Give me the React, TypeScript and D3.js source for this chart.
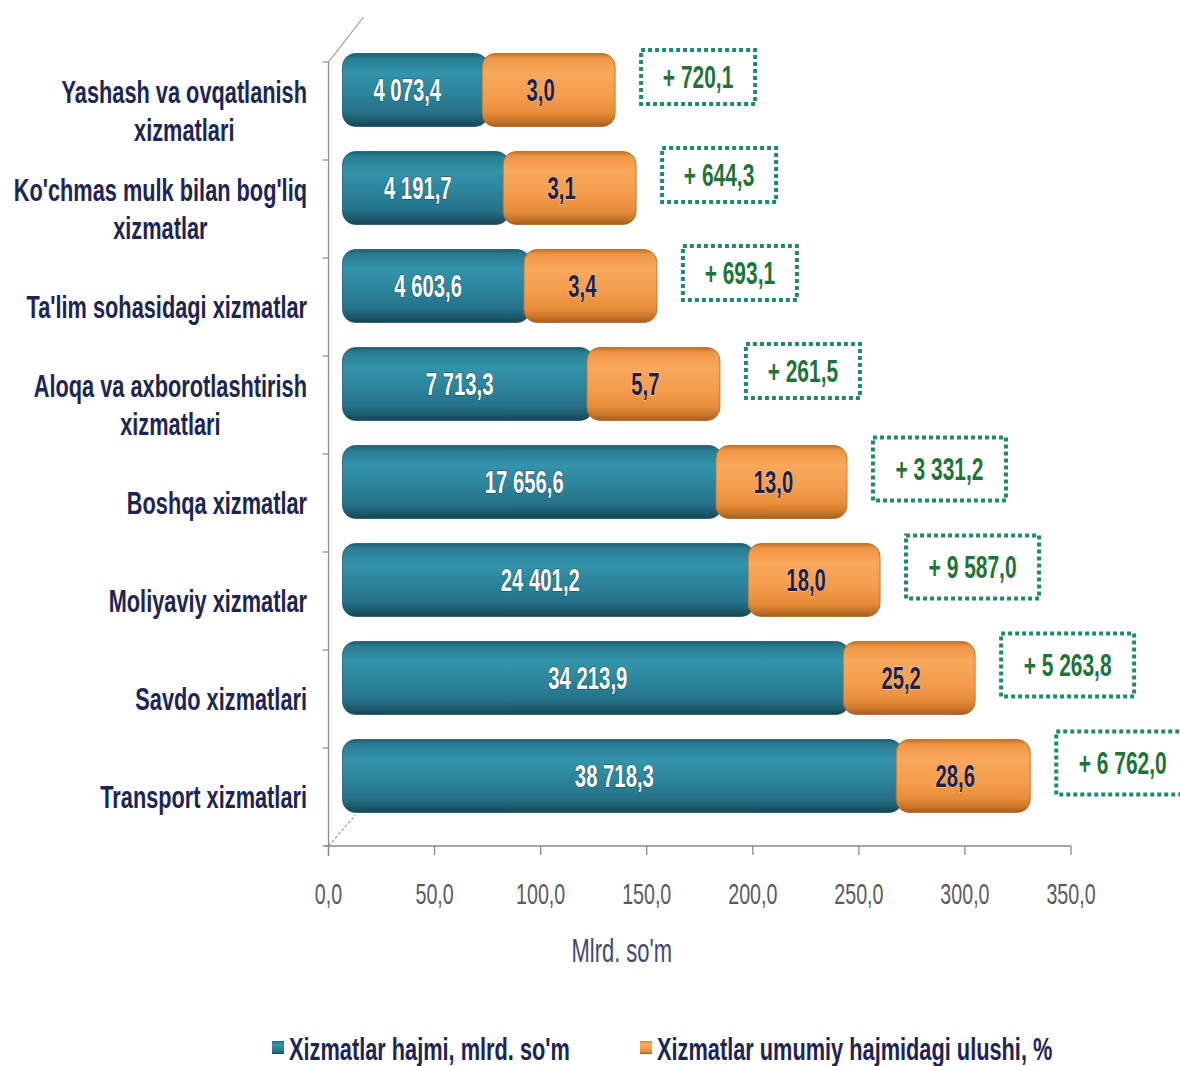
import React, { useEffect, useRef } from 'react';
import * as d3 from 'd3';

// "|" splits a category into two lines
const categories = [
  'Yashash va ovqatlanish|xizmatlari',
  "Ko'chmas mulk bilan bog'liq|xizmatlar",
  "Ta'lim sohasidagi xizmatlar",
  'Aloqa va axborotlashtirish|xizmatlari',
  'Boshqa xizmatlar',
  'Moliyaviy xizmatlar',
  'Savdo xizmatlari',
  'Transport xizmatlari',
];

// bar lengths as drawn against the 0-350 axis
const volumeBars = [65.8, 75.7, 85.5, 115.2, 176.0, 191.2, 236.0, 261.0];
const shareBars = [62.7, 62.7, 62.7, 62.7, 61.8, 62.2, 62.2, 63.2];

const volumeLabels = ['4 073,4', '4 191,7', '4 603,6', '7 713,3', '17 656,6', '24 401,2', '34 213,9', '38 718,3'];
const shareLabels = ['3,0', '3,1', '3,4', '5,7', '13,0', '18,0', '25,2', '28,6'];
const changeLabels = ['+ 720,1', '+ 644,3', '+ 693,1', '+ 261,5', '+ 3 331,2', '+ 9 587,0', '+ 5 263,8', '+ 6 762,0'];

const xTicks = [0, 50, 100, 150, 200, 250, 300, 350];
const axisTitle = "Mlrd. so'm";
const legendLabels = ["Xizmatlar hajmi, mlrd. so'm", 'Xizmatlar umumiy hajmidagi ulushi, %'];

const W = 1180;
const H = 1066;
const SQ = 0.7; // narrow look of the text
const FONT = '"Liberation Sans", Arial, sans-serif';
const NAVY = '#1c2556';

function addText(g, x, y, str, size, weight, color, anchor = 'middle', sq = SQ) {
  return g.append('text')
    .attr('transform', `translate(${x},${y}) scale(${sq},1)`)
    .attr('text-anchor', anchor)
    .attr('dominant-baseline', 'central')
    .style('font-family', FONT)
    .style('font-size', size + 'px')
    .style('font-weight', weight)
    .attr('fill', color)
    .text(str);
}

function App() {
  const svgRef = useRef(null);

  useEffect(() => {
    const svg = d3.select(svgRef.current);
    svg.selectAll('*').remove();

    const x = d3.scaleLinear().domain([0, 350]).range([328.5, 1071]);
    const y = d3.scaleBand().domain(categories).range([62, 846])
      .paddingInner(0.255).paddingOuter(0.1275);
    const bw = y.bandwidth();
    const dx = 14, dy = -21; // bars sit in the middle of the 3d depth
    const baseY = 846;

    const defs = svg.append('defs');
    const grad = (id, stops) => {
      const lg = defs.append('linearGradient').attr('id', id)
        .attr('x1', 0).attr('y1', 0).attr('x2', 0).attr('y2', 1);
      stops.forEach(([o, c]) => lg.append('stop').attr('offset', o).attr('stop-color', c));
    };
    grad('tealG', [[0, '#1d5d71'], [0.07, '#2a7d93'], [0.28, '#3294ab'], [0.55, '#2b849b'], [0.8, '#26728a'], [0.92, '#1d5a6c'], [1, '#164656']]);
    grad('orangeG', [[0, '#c07228'], [0.07, '#f09646'], [0.28, '#f8a85c'], [0.6, '#f49c4c'], [0.82, '#e68b38'], [0.93, '#c57328'], [1, '#a45d1e']]);

    // wall / axes
    const axisG = svg.append('g');
    axisG.append('line').attr('x1', x(0)).attr('x2', x(0)).attr('y1', 62).attr('y2', baseY + 10)
      .attr('stroke', '#8a8a8a').attr('stroke-width', 1.3);
    axisG.append('line').attr('x1', x(0)).attr('y1', 62).attr('x2', x(0) + 35).attr('y2', 17)
      .attr('stroke', '#9a9a9a').attr('stroke-width', 1.2);
    axisG.append('line').attr('x1', x(0)).attr('y1', baseY).attr('x2', x(0) + 27).attr('y2', baseY - 31)
      .attr('stroke', '#9a9a9a').attr('stroke-width', 1.2).attr('stroke-dasharray', '3 2');
    const bounds = categories.map((c) => y(c) - y.step() * y.paddingInner() / 2).concat([baseY]);
    bounds.forEach((b) => {
      axisG.append('line').attr('x1', x(0) - 6).attr('x2', x(0)).attr('y1', b).attr('y2', b)
        .attr('stroke', '#8a8a8a').attr('stroke-width', 1.2);
    });
    axisG.append('line').attr('x1', x(0) - 4).attr('x2', x(350)).attr('y1', baseY).attr('y2', baseY)
      .attr('stroke', '#8a8a8a').attr('stroke-width', 1.5);
    xTicks.forEach((t) => {
      axisG.append('line').attr('x1', x(t)).attr('x2', x(t)).attr('y1', baseY).attr('y2', baseY + 9)
        .attr('stroke', '#8a8a8a').attr('stroke-width', 1.3);
      addText(axisG, x(t), 893, d3.format('.1f')(t).replace('.', ','), 30, 'normal', '#5a5a5a', 'middle', 0.655);
    });
    addText(axisG, (x(0) + x(350)) / 2 - 78, 950, axisTitle, 34, 'normal', '#414a6a', 'middle', 0.645);

    // category labels
    const catG = svg.append('g');
    const labelRight = 307;
    categories.forEach((c) => {
      const lines = c.split('|');
      const cy = y(c) + bw / 2;
      if (lines.length === 1) {
        addText(catG, labelRight, cy, lines[0], 32, 'bold', NAVY, 'end', 0.68);
      } else {
        const nodes = lines.map((ln, i) => addText(catG, labelRight, cy + (i - 0.5) * 38, ln, 32, 'bold', NAVY, 'end', 0.68));
        const wMax = d3.max(nodes, (n) => n.node().getComputedTextLength() * 0.68);
        nodes.forEach((n, i) => n.attr('text-anchor', 'middle')
          .attr('transform', `translate(${labelRight - wMax / 2},${cy + (i - 0.5) * 38}) scale(0.68,1)`));
      }
    });

    // bars
    const barG = svg.append('g');
    categories.forEach((c, i) => {
      const top = y(c) + dy;
      const cy = top + bw / 2;
      const x0 = x(0) + dx;
      const x1 = x(volumeBars[i]) + dx;
      const x2 = x(volumeBars[i] + shareBars[i]) + dx;

      barG.append('rect').attr('x', x0).attr('y', top).attr('width', x1 - x0 + 6).attr('height', bw)
        .attr('rx', 13).attr('fill', 'url(#tealG)').attr('stroke', '#1b5566').attr('stroke-width', 0.8);
      barG.append('rect').attr('x', x1).attr('y', top).attr('width', x2 - x1).attr('height', bw)
        .attr('rx', 13).attr('fill', 'url(#orangeG)').attr('stroke', '#b0671f').attr('stroke-width', 0.8);

      addText(barG, (x0 + x1) / 2 - 5, cy, volumeLabels[i], 31, 'bold', '#ffffff', 'middle', 0.655)
        .attr('stroke', '#1a4a5a').attr('stroke-width', 1.2).style('paint-order', 'stroke');
      addText(barG, (x1 + x2) / 2 - 8, cy, shareLabels[i], 31, 'bold', '#1c1f50', 'middle', 0.655)
        .attr('stroke', '#fbd2a8').attr('stroke-width', 1).style('paint-order', 'stroke');

      // change boxes
      const long = changeLabels[i].length > 7;
      const bwid = long ? 133 : 114;
      const bh = long ? 63 : 54;
      const bx = x2 + 26;
      const bcy = cy - 13;
      barG.append('rect').attr('x', bx).attr('y', bcy - bh / 2).attr('width', bwid).attr('height', bh)
        .attr('fill', '#ffffff').attr('stroke', '#1f8a70').attr('stroke-width', 4)
        .attr('stroke-dasharray', '4 3');
      addText(barG, bx + bwid / 2, bcy, changeLabels[i], 32, 'bold', '#1d7438', 'middle', 0.655);
    });

    // legend
    const legG = svg.append('g');
    const legX = [272, 640];
    const legFill = ['url(#tealG)', 'url(#orangeG)'];
    legendLabels.forEach((l, i) => {
      legG.append('rect').attr('x', legX[i]).attr('y', 1041).attr('width', 12).attr('height', 13)
        .attr('fill', legFill[i]);
      addText(legG, legX[i] + 17, 1049, l, 32, 'bold', NAVY, 'start', 0.68);
    });
  }, []);

  return (
    <svg ref={svgRef} width={W} height={H}
      style={{ position: 'absolute', left: 0, top: 0, background: '#fff' }}></svg>
  );
}

export default App;
